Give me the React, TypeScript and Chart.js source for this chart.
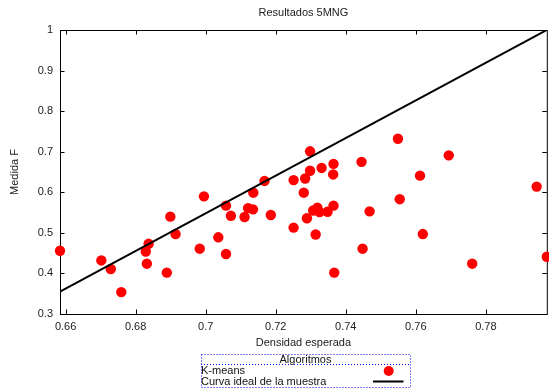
import { useEffect, useRef } from 'react';
import { Chart, registerables } from 'chart.js';

Chart.register(...registerables);

const TITLE = 'Resultados 5MNG';
const X_LABEL = 'Densidad esperada';
const Y_LABEL = 'Medida F';
const LEGEND_TITLE = 'Algoritmos';
const SERIES_NAMES = ['K-means', 'Curva ideal de la muestra'];

// Densidad esperada vs. Medida F obtained by K-means
const KMEANS_X = [
  0.6584, 0.6702, 0.6729, 0.6759, 0.6829, 0.6837, 0.6832, 0.6889, 0.6899, 0.6914,
  0.6995, 0.6983, 0.7036, 0.7058, 0.7058, 0.7072, 0.7136, 0.7168, 0.7121, 0.7135,
  0.7111, 0.7186, 0.7251, 0.7251, 0.7284, 0.728, 0.7298, 0.7298, 0.7331, 0.7365,
  0.7364, 0.7289, 0.7307, 0.7319, 0.7325, 0.7348, 0.7365, 0.7314, 0.7367, 0.7445,
  0.7468, 0.7448, 0.7549, 0.7694, 0.7612, 0.7554, 0.762, 0.7761, 0.7945, 0.7974,
];
const KMEANS_Y = [
  0.456, 0.432, 0.411, 0.354, 0.454, 0.473, 0.424, 0.402, 0.54, 0.497,
  0.59, 0.461, 0.489, 0.567, 0.448, 0.542, 0.599, 0.628, 0.561, 0.558,
  0.539, 0.544, 0.63, 0.513, 0.634, 0.599, 0.701, 0.653, 0.66, 0.67,
  0.644, 0.536, 0.555, 0.562, 0.551, 0.552, 0.567, 0.496, 0.402, 0.675,
  0.553, 0.461, 0.732, 0.691, 0.641, 0.583, 0.497, 0.424, 0.614, 0.441,
];

// Ideal curve for the sample
const IDEAL_X = [0.6584, 0.7974];
const IDEAL_Y = [0.355, 1.0];

const X_TICKS = [0.66, 0.68, 0.7, 0.72, 0.74, 0.76, 0.78];
const Y_TICKS = [0.3, 0.4, 0.5, 0.6, 0.7, 0.8, 0.9, 1];
const X_MIN = 0.6584;
const X_MAX = 0.7974;
const Y_MIN = 0.3;
const Y_MAX = 1;

const FAMILY = '"Liberation Sans", Arial, Helvetica, sans-serif';
const FONT = `11px ${FAMILY}`;
const INK = '#222';
const RED = '#ff0000';
const TICK_LEN = 4.5;

const fmt = (v: number) => String(+v.toFixed(2));

const framePlugin = {
  id: 'frameAndTicks',
  beforeDatasetsDraw(chart: any) {
    const { ctx, chartArea: a, scales } = chart;
    ctx.save();
    ctx.strokeStyle = '#000';
    ctx.lineWidth = 1;
    ctx.strokeRect(Math.round(a.left) + 0.5, Math.round(a.top) + 0.5, a.right - a.left, a.bottom - a.top);
    ctx.beginPath();
    for (const t of X_TICKS) {
      const x = Math.round(scales.x.getPixelForValue(t)) + 0.5;
      ctx.moveTo(x, a.bottom);
      ctx.lineTo(x, a.bottom - TICK_LEN);
      ctx.moveTo(x, a.top);
      ctx.lineTo(x, a.top + TICK_LEN);
    }
    for (const t of Y_TICKS) {
      const y = Math.round(scales.y.getPixelForValue(t)) + 0.5;
      ctx.moveTo(a.left, y);
      ctx.lineTo(a.left + TICK_LEN, y);
      ctx.moveTo(a.right, y);
      ctx.lineTo(a.right - TICK_LEN, y);
    }
    ctx.stroke();
    ctx.restore();
  },
  afterDraw(chart: any) {
    const { ctx, chartArea: a } = chart;
    const cx = (a.left + a.right) / 2;
    ctx.save();
    ctx.font = FONT;
    ctx.fillStyle = INK;
    ctx.textBaseline = 'middle';
    ctx.textAlign = 'center';
    ctx.fillText(TITLE, cx, 13);
    ctx.fillText(X_LABEL, cx, 343);

    ctx.save();
    ctx.translate(15, (a.top + a.bottom) / 2);
    ctx.rotate(-Math.PI / 2);
    ctx.fillText(Y_LABEL, 0, 0);
    ctx.restore();

    // legend box
    const bl = 201, br = 410, bt = 354, bb = 387;
    ctx.strokeStyle = '#0000ff';
    ctx.lineWidth = 1;
    ctx.setLineDash([1, 2]);
    ctx.strokeRect(bl + 0.5, bt + 0.5, br - bl, bb - bt);
    ctx.beginPath();
    ctx.moveTo(bl, bt + 10.5);
    ctx.lineTo(br, bt + 10.5);
    ctx.stroke();
    ctx.setLineDash([]);

    ctx.fillStyle = '#111';
    ctx.textAlign = 'center';
    ctx.fillText(LEGEND_TITLE, (bl + br) / 2, 360);
    ctx.textAlign = 'left';
    ctx.fillText(SERIES_NAMES[0], bl, 371);
    ctx.fillText(SERIES_NAMES[1], bl, 381.5);

    ctx.fillStyle = RED;
    ctx.beginPath();
    ctx.arc(388.7, 371, 5, 0, Math.PI * 2);
    ctx.fill();

    ctx.strokeStyle = '#000';
    ctx.lineWidth = 2;
    ctx.beginPath();
    ctx.moveTo(373, 381.5);
    ctx.lineTo(403.5, 381.5);
    ctx.stroke();
    ctx.restore();
  },
};

export default function App() {
  const canvasRef = useRef<HTMLCanvasElement | null>(null);

  useEffect(() => {
    const canvas = canvasRef.current;
    if (!canvas) return;
    const chart = new Chart(canvas, {
      type: 'scatter',
      data: {
        datasets: [
          {
            type: 'line',
            label: SERIES_NAMES[1],
            data: IDEAL_X.map((x, i) => ({ x, y: IDEAL_Y[i] })),
            borderColor: '#000',
            borderWidth: 2,
            pointRadius: 0,
            fill: false,
            order: 1,
          } as any,
          {
            label: SERIES_NAMES[0],
            data: KMEANS_X.map((x, i) => ({ x, y: KMEANS_Y[i] })),
            backgroundColor: RED,
            borderWidth: 0,
            pointRadius: 5.2,
            clip: false,
            order: 2,
          } as any,
        ],
      },
      options: {
        animation: false,
        responsive: false,
        devicePixelRatio: 1,
        layout: { padding: { top: 30, right: 2, bottom: 0, left: 0 } },
        plugins: {
          legend: { display: false },
          tooltip: { enabled: false },
          title: { display: false },
        },
        scales: {
          x: {
            type: 'linear',
            min: X_MIN,
            max: X_MAX,
            grid: { display: false, drawTicks: false },
            border: { display: false },
            afterBuildTicks: (s: any) => {
              s.ticks = X_TICKS.map((value) => ({ value }));
            },
            afterFit: (s: any) => {
              s.height = 78;
            },
            ticks: {
              autoSkip: false,
              maxRotation: 0,
              padding: 6,
              color: INK,
              font: { family: FAMILY, size: 11 },
              callback: (v: any) => fmt(Number(v)),
            },
          },
          y: {
            type: 'linear',
            min: Y_MIN,
            max: Y_MAX,
            grid: { display: false, drawTicks: false },
            border: { display: false },
            afterBuildTicks: (s: any) => {
              s.ticks = Y_TICKS.map((value) => ({ value }));
            },
            afterFit: (s: any) => {
              s.width = 60;
            },
            ticks: {
              autoSkip: false,
              padding: 7,
              color: INK,
              font: { family: FAMILY, size: 11 },
              callback: (v: any) => fmt(Number(v)),
            },
          },
        },
      },
      plugins: [framePlugin],
    });
    return () => chart.destroy();
  }, []);

  return (
    <div
      style={{
        position: 'absolute',
        left: 0,
        top: 0,
        width: 549,
        height: 392,
        overflow: 'hidden',
        background: '#fff',
      }}
    >
      <canvas ref={canvasRef} width={552} height={392} style={{ display: 'block' }} />
    </div>
  );
}
